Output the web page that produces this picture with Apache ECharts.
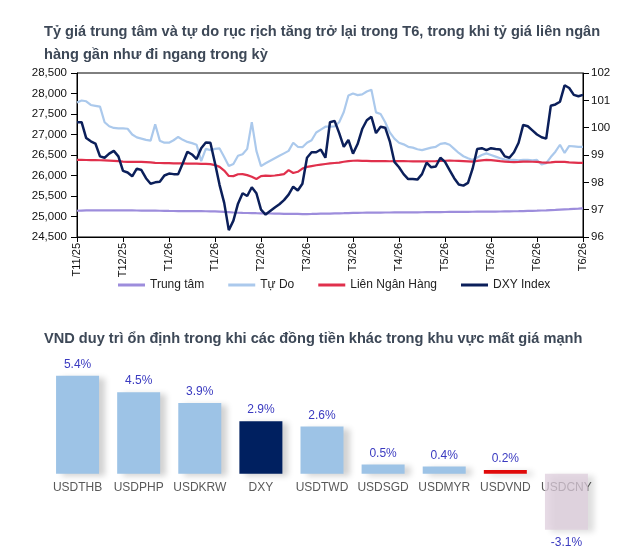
<!DOCTYPE html>
<html>
<head>
<meta charset="utf-8">
<script src="https://cdn.jsdelivr.net/npm/echarts@6/dist/echarts.min.js"></script>
<style>
  html, body { margin: 0; padding: 0; background: #fff; }
  #main { width: 632px; height: 553px; }
</style>
</head>
<body>
<div id="main"></div>
<script>
//////////DATA - chart 1 (ty gia, 111 diem, nhan moi 10 diem)
var tickLabels = ['T11/25', 'T12/25', 'T1/26', 'T1/26', 'T2/26', 'T3/26', 'T3/26', 'T4/26', 'T5/26', 'T5/26', 'T6/26', 'T6/26'];
var trungTam = [
  25140, 25145, 25148, 25150, 25150, 25152, 25150, 25150, 25150, 25148, 25148,
  25148, 25147, 25146, 25145, 25145, 25144, 25143, 25140, 25138, 25135,
  25134, 25133, 25132, 25131, 25130, 25130, 25129, 25128, 25127, 25125,
  25120, 25112, 25105, 25098, 25092, 25088, 25085, 25083, 25080, 25078,
  25076, 25073, 25070, 25068, 25066, 25065, 25063, 25062, 25060, 25060,
  25062, 25065, 25068, 25070, 25072, 25075, 25078, 25080, 25084, 25088,
  25090, 25092, 25093, 25094, 25095, 25096, 25097, 25098, 25099, 25100,
  25100, 25101, 25102, 25103, 25104, 25105, 25106, 25107, 25108, 25110,
  25111, 25112, 25113, 25114, 25115, 25116, 25117, 25118, 25119, 25120,
  25121, 25122, 25124, 25126, 25128, 25130, 25133, 25136, 25139, 25142,
  25146, 25150, 25155, 25160, 25166, 25172, 25178, 25185, 25192, 25200
];
var tuDo = [
  27780, 27830, 27810, 27720, 27700, 27680, 27300, 27200, 27160, 27150, 27150,
  27140, 27000, 26930, 26900, 26870, 26850, 27250, 26850, 26800, 26800,
  26860, 26940, 26870, 26820, 26790, 26750, 26350, 26650, 26620, 26650,
  26660, 26450, 26230, 26280, 26480, 26520, 26650, 27300, 26600, 26230,
  26300, 26360, 26420, 26480, 26540, 26600, 26800, 26700, 26690, 26800,
  26860, 27050, 27120, 27190, 27190, 27200, 27300, 27550, 27950, 28000,
  27960, 27980, 28050, 28090, 27540, 27500, 27300, 27050, 26900, 26800,
  26760, 26700, 26680, 26640, 26620, 26650, 26680, 26700, 26770, 26790,
  26750, 26650, 26550, 26470, 26420, 26380, 26440, 26500, 26540, 26500,
  26460, 26420, 26390, 26380, 26380, 26370, 26380, 26380, 26370, 26380,
  26270, 26300, 26450, 26580, 26750, 26550, 26720, 26710, 26700, 26700
];
var lienNganHang = [
  26380, 26380, 26378, 26376, 26374, 26372, 26368, 26364, 26358, 26350,
  26340, 26332, 26330, 26335, 26330, 26325, 26318, 26310, 26305, 26302,
  26300, 26298, 26296, 26294, 26292, 26290, 26288, 26285, 26282, 26276,
  26255, 26210, 26120, 25990, 25985, 26030, 26035, 26010, 25970, 25915,
  25985, 25995, 25990, 26000, 26015, 26035, 26130, 26060, 26090, 26170,
  26210, 26230, 26250, 26265, 26280, 26295, 26305, 26315, 26335, 26350,
  26360, 26362, 26358, 26355, 26352, 26350, 26352, 26350, 26348, 26350,
  26352, 26350, 26348, 26346, 26345, 26345, 26346, 26348, 26350, 26355,
  26360, 26362, 26360, 26355, 26350, 26345, 26340, 26355, 26370, 26380,
  26375, 26365, 26350, 26340, 26330, 26325, 26330, 26338, 26340, 26335,
  26330, 26320, 26315, 26320, 26330, 26335, 26330, 26320, 26315, 26310, 26310
];
var dxy = [
  100.2, 100.2, 99.62, 99.5, 99.42, 98.95, 98.9, 99.05, 99.15, 98.95, 98.42,
  98.36, 98.22, 98.5, 98.45, 98.15, 97.95, 98.0, 98.02, 98.25, 98.32,
  98.3, 98.3, 98.7, 99.12, 99.02, 98.85, 99.25, 99.46, 99.45, 98.7,
  97.9, 97.25, 96.25, 96.6, 97.22, 97.6, 97.5, 97.82, 97.6, 97.0,
  96.82, 96.95, 97.08, 97.2, 97.35, 97.55, 97.84, 97.7, 97.95, 98.9,
  99.1, 99.1, 99.2, 98.9, 100.2, 100.25, 99.8, 99.3, 99.55, 99.05,
  99.4, 99.95, 100.27, 100.4, 99.8, 100.03, 100.0, 99.5, 98.75, 98.55,
  98.3, 98.12, 98.12, 98.1, 98.3, 98.72, 98.55, 98.58, 98.9, 98.75,
  98.45, 98.15, 97.92, 97.88, 97.98, 98.5, 99.22, 99.25, 99.18, 99.25,
  99.22, 99.2, 98.95, 98.9, 99.1, 99.45, 100.1, 100.05, 99.9, 99.75,
  99.65, 99.6, 100.8, 100.85, 100.95, 101.55, 101.45, 101.2, 101.15, 101.2
];

//////////DATA - chart 2 (bien dong tien te, %)
var currencies = ['USDTHB', 'USDPHP', 'USDKRW', 'DXY', 'USDTWD', 'USDSGD', 'USDMYR', 'USDVND', 'USDCNY'];
var changes = [5.4, 4.5, 3.9, 2.9, 2.6, 0.5, 0.4, 0.2, -3.1];

//ngay: chi co nhan o moi diem thu 10
var days = [];
for (var i = 0; i < dxy.length; i++) {
  days.push(i % 10 === 0 ? tickLabels[i / 10] : '');
}
function everyTen(index) { return index % 10 === 0; }

var barColors = {
  'DXY': '#002060',
  'USDVND': '#e00a0a',
  'USDCNY': 'rgba(222,205,220,0.75)'
};
var barData = currencies.map(function (c, k) {
  var item = {
    value: changes[k],
    itemStyle: { color: barColors[c] || '#9dc3e6' }
  };
  if (changes[k] < 0) {
    item.label = { position: 'bottom', distance: 7 };
  }
  return item;
});

//truc y cua bieu do cot: min/max & vi tri muc 0
var barMin = -3.5, barMax = 6;
var barTop = 365, barHeight = 172;
var zeroOffset = -barHeight * (0 - barMin) / (barMax - barMin);

var font = 'Liberation Sans, Arial, sans-serif';
var chart = echarts.init(document.getElementById('main'));
var option = {
  animation: false,
  backgroundColor: '#fff',
  title: [
    {
      text: 'Tỷ giá trung tâm và tự do rục rịch tăng trở lại trong T6, trong khi tỷ giá liên ngân\nhàng gần như đi ngang trong kỳ',
      left: 39,
      top: 15,
      textStyle: { fontFamily: font, fontSize: 14.6, fontWeight: 'bold', color: '#3d4857', lineHeight: 23 }
    },
    {
      text: 'VND duy trì ổn định trong khi các đồng tiền khác trong khu vực mất giá mạnh',
      left: 39,
      top: 326,
      textStyle: { fontFamily: font, fontSize: 14.6, fontWeight: 'bold', color: '#3d4857' }
    }
  ],
  legend: {
    left: 113,
    top: 274,
    itemWidth: 27,
    itemHeight: 3,
    itemGap: 24,
    icon: 'rect',
    textStyle: { fontFamily: font, fontSize: 12, color: '#222' },
    data: ['Trung tâm', 'Tự Do', 'Liên Ngân Hàng', 'DXY Index']
  },
  grid: [
    { left: 77, right: 49, top: 73, height: 164, show: true, borderColor: '#000', borderWidth: 1 },
    { left: 47, right: 35, top: barTop, height: barHeight }
  ],
  xAxis: [
    {
      gridIndex: 0,
      type: 'category',
      data: days,
      boundaryGap: false,
      axisLine: { lineStyle: { color: '#000', width: 1 } },
      axisTick: { interval: everyTen, length: 5, lineStyle: { color: '#000' } },
      axisLabel: { interval: everyTen, rotate: 90, margin: 6, fontFamily: font, fontSize: 11, color: '#111' }
    },
    {
      gridIndex: 1,
      type: 'category',
      data: currencies,
      offset: zeroOffset,
      axisLine: { show: false, onZero: false },
      axisTick: { show: false },
      axisLabel: { interval: 0, margin: 8, fontFamily: font, fontSize: 12, color: '#595959' }
    }
  ],
  yAxis: [
    {
      gridIndex: 0,
      type: 'value',
      min: 24500,
      max: 28500,
      interval: 500,
      axisLine: { show: true, lineStyle: { color: '#000' } },
      axisTick: { show: true, length: 6, lineStyle: { color: '#000' } },
      splitLine: { show: false },
      axisLabel: {
        margin: 10,
        fontFamily: font, fontSize: 11.5, color: '#111',
        formatter: function (v) { return v.toLocaleString('en-US'); }
      }
    },
    {
      gridIndex: 0,
      type: 'value',
      position: 'right',
      min: 96,
      max: 102,
      interval: 1,
      axisLine: { show: true, lineStyle: { color: '#000' } },
      axisTick: { show: true, length: 6, lineStyle: { color: '#000' } },
      splitLine: { show: false },
      axisLabel: { margin: 8, fontFamily: font, fontSize: 11.5, color: '#111' }
    },
    {
      gridIndex: 1,
      type: 'value',
      min: barMin,
      max: barMax,
      axisLine: { show: false },
      axisTick: { show: false },
      axisLabel: { show: false },
      splitLine: { show: false }
    }
  ],
  series: [
    {
      name: 'Trung tâm',
      type: 'line',
      xAxisIndex: 0, yAxisIndex: 0,
      data: trungTam,
      showSymbol: false,
      itemStyle: { color: '#9d8ddc' },
      lineStyle: { width: 2.2, color: '#9d8ddc' }
    },
    {
      name: 'Tự Do',
      type: 'line',
      xAxisIndex: 0, yAxisIndex: 0,
      data: tuDo,
      showSymbol: false,
      itemStyle: { color: '#abc9ec' },
      lineStyle: { width: 2.2, color: '#abc9ec' }
    },
    {
      name: 'Liên Ngân Hàng',
      type: 'line',
      xAxisIndex: 0, yAxisIndex: 0,
      data: lienNganHang,
      showSymbol: false,
      itemStyle: { color: '#e0304c' },
      lineStyle: { width: 2.2, color: '#e0304c' }
    },
    {
      name: 'DXY Index',
      type: 'line',
      xAxisIndex: 0, yAxisIndex: 1,
      data: dxy,
      showSymbol: false,
      itemStyle: { color: '#0b1f5a' },
      lineStyle: { width: 2.5, color: '#0b1f5a' }
    },
    {
      name: 'bien dong',
      type: 'bar',
      xAxisIndex: 1, yAxisIndex: 2,
      data: barData,
      barWidth: 43,
      z: 3,
      itemStyle: {
        shadowColor: 'rgba(0,0,0,0.18)',
        shadowBlur: 6,
        shadowOffsetX: 6,
        shadowOffsetY: 2
      },
      label: {
        show: true,
        position: 'top',
        distance: 5,
        fontFamily: font,
        fontSize: 12,
        color: '#3a3ac0',
        formatter: function (p) { return p.value.toFixed(1) + '%'; }
      }
    }
  ]
};
chart.setOption(option);
</script>
</body>
</html>
